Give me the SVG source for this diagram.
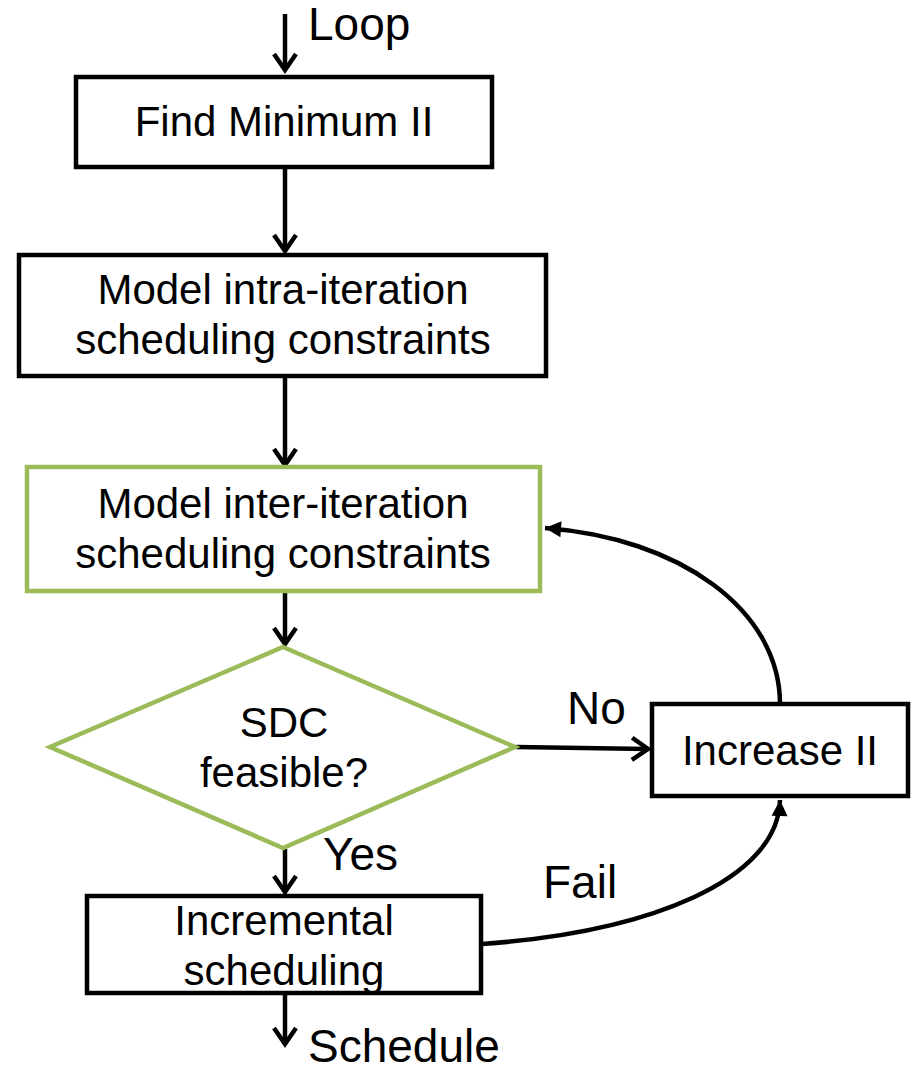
<svg xmlns="http://www.w3.org/2000/svg" width="911" height="1072" viewBox="0 0 911 1072">
<style>
.box{fill:#fff;stroke:#000;stroke-width:4.5}
.gbox{fill:#fff;stroke:#9BBB59;stroke-width:4.5}
.t{font-family:"Liberation Sans",Arial,sans-serif;font-size:42px;fill:#000;text-anchor:middle}
.lbl{font-family:"Liberation Sans",Arial,sans-serif;font-size:46px;fill:#000}
.c{fill:none;stroke:#000;stroke-width:4.5}
</style>
<defs>
<marker id="chev" markerUnits="userSpaceOnUse" markerWidth="40" markerHeight="40" viewBox="-25 -20 30 40" refX="0" refY="0" orient="auto" overflow="visible">
<path d="M-16,-11 L0,0 L-16,11" fill="none" stroke="#000" stroke-width="4.5" stroke-linejoin="miter"/>
</marker>
<marker id="tri" markerUnits="userSpaceOnUse" markerWidth="40" markerHeight="40" viewBox="-25 -20 30 40" refX="0" refY="0" orient="auto" overflow="visible">
<path d="M-16,-8 L0,0 L-16,8 Z" fill="#000"/>
</marker>
</defs>
<g id="connectors">
<line class="c" x1="285" y1="14" x2="285" y2="70" marker-end="url(#chev)"/>
<line class="c" x1="285" y1="167" x2="285" y2="251" marker-end="url(#chev)"/>
<line class="c" x1="285" y1="377" x2="285" y2="465" marker-end="url(#chev)"/>
<line class="c" x1="285" y1="592" x2="285" y2="644" marker-end="url(#chev)"/>
<line class="c" x1="516" y1="747" x2="648" y2="749" marker-end="url(#chev)"/>
<line class="c" x1="285" y1="849" x2="285" y2="892" marker-end="url(#chev)"/>
<line class="c" x1="285" y1="994" x2="285" y2="1044" marker-end="url(#chev)"/>
<path class="c" d="M780,704 C780,610 680,538 545,528" marker-end="url(#tri)"/>
<path class="c" d="M482,944 C650,932 778,880 780,800" marker-end="url(#tri)"/>
</g>
<g id="loop-label"><text class="lbl" x="308" y="40">Loop</text></g>
<g id="find-min-ii">
<rect class="box" x="76" y="77" width="416" height="90"/>
<text class="t" x="284" y="136">Find Minimum II</text>
</g>
<g id="model-intra">
<rect class="box" x="19" y="255" width="527" height="121"/>
<text class="t" x="283" y="304">Model intra-iteration</text>
<text class="t" x="283" y="354">scheduling constraints</text>
</g>
<g id="model-inter">
<rect class="gbox" x="27" y="467" width="513" height="124"/>
<text class="t" x="283" y="518">Model inter-iteration</text>
<text class="t" x="283" y="568">scheduling constraints</text>
</g>
<g id="sdc-feasible">
<polygon class="gbox" points="283,647 515,747 283,848 50,747"/>
<text class="t" x="284" y="737">SDC</text>
<text class="t" x="284" y="787">feasible?</text>
</g>
<g id="increase-ii">
<rect class="box" x="652" y="704" width="256" height="92"/>
<text class="t" x="780" y="765">Increase II</text>
</g>
<g id="incremental">
<rect class="box" x="87" y="896" width="394" height="97"/>
<text class="t" x="284" y="935">Incremental</text>
<text class="t" x="284" y="985">scheduling</text>
</g>
<g id="labels">
<text class="lbl" x="567" y="724">No</text>
<text class="lbl" x="323" y="870">Yes</text>
<text class="lbl" x="543" y="898">Fail</text>
<text class="lbl" x="308" y="1062">Schedule</text>
</g>
</svg>
